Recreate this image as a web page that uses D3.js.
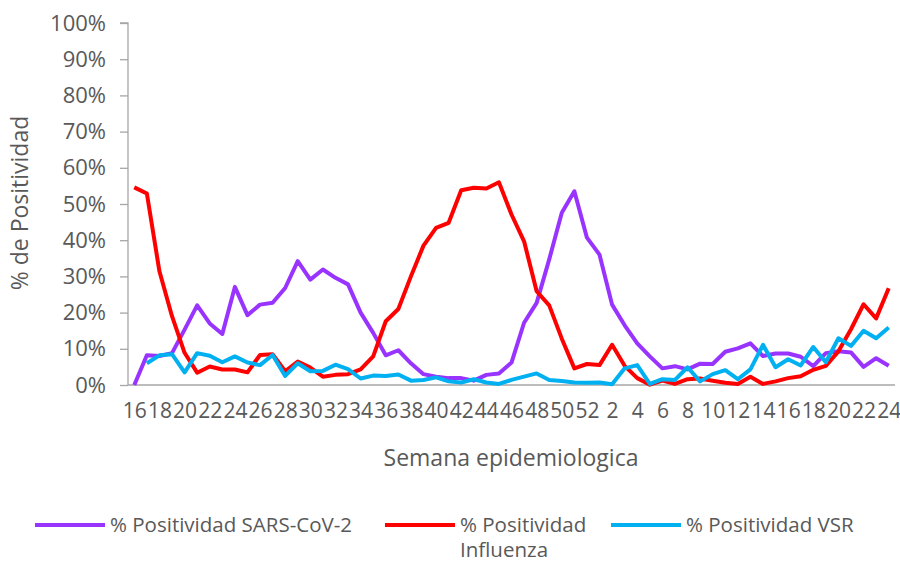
<!DOCTYPE html>
<html>
<head>
<meta charset="utf-8">
<script src="https://cdn.jsdelivr.net/npm/d3@7"></script>
<style>
  body { margin: 0; background: #fff; }
  svg text { font-family: "Open Sans", "Noto Sans", sans-serif; fill: #595959; }
</style>
</head>
<body>
<div class="js-chart"></div>
<script>
'use strict';

// epidemiological weeks: 16..52, then 1..24
const weeks = [16,17,18,19,20,21,22,23,24,25,26,27,28,29,30,31,32,33,34,35,36,37,38,39,40,41,42,43,44,45,46,47,48,49,50,51,52,
	1,2,3,4,5,6,7,8,9,10,11,12,13,14,15,16,17,18,19,20,21,22,23,24];

const sarsCov2 = [0,8.2,8.0,8.8,15.3,22,17,14.1,27.1,19.3,22.2,22.7,26.8,34.2,29.1,31.9,29.6,27.8,20,14.4,8.2,9.6,6,3.0,2.3,1.9,1.9,1.2,2.8,3.2,6.2,17.2,22.7,34.7,47.6,53.5,40.7,
	36,22.2,16.5,11.5,7.9,4.6,5.2,4.3,5.9,5.8,9.2,10.1,11.5,8.0,8.7,8.7,7.8,5.2,8.8,9.3,9.0,5.0,7.4,5.3];

const influenza = [54.6,52.9,31.4,19,8.9,3.4,5.1,4.3,4.3,3.5,8.3,8.5,3.8,6.5,4.8,2.3,2.8,3.0,4.3,7.9,17.6,21,30,38.5,43.4,44.8,53.8,54.5,54.3,56,47.1,39.7,25.9,22,12.8,4.6,5.8,
	5.5,11.1,5.3,1.9,0.1,1.2,0.3,1.6,1.8,1.2,0.6,0.3,2.3,0.3,1.0,1.9,2.4,4.2,5.3,9.3,15.4,22.3,18.4,26.7];

const vsr = [null,6.0,8.2,8.5,3.5,8.8,8.1,6.3,7.9,6.2,5.5,8.3,2.5,6.0,3.8,3.9,5.6,4.4,1.8,2.6,2.5,2.9,1.2,1.4,2.1,1.0,0.7,1.6,0.7,0.3,1.4,2.3,3.2,1.4,1.1,0.7,0.6,
	0.7,0.2,4.6,5.5,0.3,1.6,1.4,4.9,1.0,3.0,4.1,1.6,4.3,11.1,4.9,7.1,5.4,10.5,6.3,12.9,10.8,15.0,12.9,15.9];

const yTicks = [0,10,20,30,40,50,60,70,80,90,100];

const seriesNames = ['% Positividad SARS-CoV-2', '% Positividad Influenza', '% Positividad VSR'];
const seriesColors = ['#9933ff', '#ff0000', '#00b0f0'];

function drawChart() {

	const svgWidth = 900;
	const svgHeight = 563;
	const left = 128, right = 895, top = 23, bottom = 385;

	const svg = d3.select('.js-chart')
		.append('svg')
		.attr('width', svgWidth)
		.attr('height', svgHeight);

	const xScale = d3.scalePoint()
		.domain(d3.range(weeks.length))
		.range([left, right])
		.padding(0.5);

	const yScale = d3.scaleLinear()
		.domain([0, 100])
		.range([bottom, top]);

	// y axis
	const yAxis = svg.append('g')
		.attr('transform', `translate(${left},0)`)
		.call(d3.axisLeft(yScale)
			.tickValues(yTicks)
			.tickSize(8)
			.tickPadding(14)
			.tickFormat(d => d + '%'));
	yAxis.selectAll('path, line').attr('stroke', '#a6a6a6').attr('stroke-width', 1.3);
	yAxis.select('.domain').attr('d', `M-8,${top}H0V${bottom}`);
	yAxis.selectAll('text').style('font-size', '22px').style('fill', '#595959');

	// x axis
	const xAxis = svg.append('g')
		.attr('transform', `translate(0,${bottom})`)
		.call(d3.axisBottom(xScale)
			.tickValues(d3.range(0, weeks.length, 2))
			.tickSize(0)
			.tickPadding(18)
			.tickFormat(i => weeks[i]));
	xAxis.select('.domain').attr('d', `M${left},0H${right}`).attr('stroke', '#a6a6a6').attr('stroke-width', 1.3);
	xAxis.selectAll('text').style('font-size', '21px').style('fill', '#595959');

	// lines
	const allSeries = [sarsCov2, influenza, vsr];
	const line = d3.line()
		.defined(d => d != null)
		.x((d, i) => xScale(i))
		.y(d => yScale(d));

	allSeries.forEach(function(values, k) {
		svg.append('path')
			.datum(values)
			.attr('fill', 'none')
			.attr('stroke', seriesColors[k])
			.attr('stroke-width', 4)
			.attr('stroke-linejoin', 'round')
			.attr('d', line);
	});

	// axis titles
	svg.append('text')
		.attr('x', 511)
		.attr('y', 466)
		.attr('text-anchor', 'middle')
		.style('font-size', '23px')
		.text('Semana epidemiologica');

	svg.append('text')
		.attr('transform', 'translate(28,203) rotate(-90)')
		.attr('text-anchor', 'middle')
		.style('font-size', '23px')
		.text('% de Positividad');

	// legend
	const legendX = [35, 385, 611];
	const legend = svg.append('g');
	seriesNames.forEach(function(name, k) {
		const g = legend.append('g').attr('transform', `translate(${legendX[k]},525)`);
		g.append('line')
			.attr('x1', 0).attr('x2', 70)
			.attr('stroke', seriesColors[k])
			.attr('stroke-width', 4);
		if (k === 1) {
			g.append('text').attr('x', 75).attr('y', 7).style('font-size', '20.5px').text('% Positividad');
			g.append('text').attr('x', 75).attr('y', 32).style('font-size', '20.5px').text('Influenza');
		} else {
			g.append('text').attr('x', 75).attr('y', 7).style('font-size', '20.5px').text(name);
		}
	});
}

drawChart();
</script>
</body>
</html>
